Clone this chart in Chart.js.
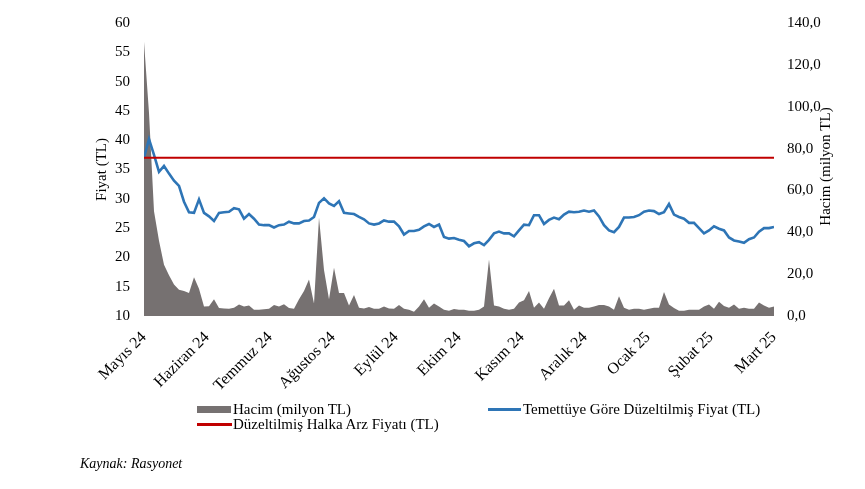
<!DOCTYPE html>
<html>
<head>
<meta charset="utf-8">
<script src="https://cdn.jsdelivr.net/npm/chart.js@4.4.1/dist/chart.umd.min.js"></script>
<style>
  body { margin: 0; background: #fff; }
  #wrap { position: relative; width: 865px; height: 489px; font-family: 'Liberation Serif', 'Times New Roman', serif; color: #000; }
  .sw { position: absolute; }
  .txt { position: absolute; font-size: 15px; line-height: 17px; white-space: nowrap; }
</style>
</head>
<body>
<div id="wrap">
  <canvas id="myChart" width="865" height="489"></canvas>
  <div class="sw" style="left:197px;top:406px;width:34px;height:7px;background:#767171"></div>
  <div class="txt" style="left:233px;top:401px">Hacim (milyon TL)</div>
  <div class="sw" style="left:488px;top:408px;width:33px;height:2.5px;background:#2E75B6"></div>
  <div class="txt" style="left:523px;top:401px">Temettüye Göre Düzeltilmiş Fiyat (TL)</div>
  <div class="sw" style="left:197px;top:423px;width:35px;height:2.5px;background:#C00000"></div>
  <div class="txt" style="left:233px;top:416px">Düzeltilmiş Halka Arz Fiyatı (TL)</div>
  <div class="txt" style="left:80px;top:455px;font-size:14px;font-style:italic">Kaynak: Rasyonet</div>
</div>

<script type="text/javascript">
  // ay etiketleri (x ekseni)
  var aylar = ['Mayıs 24', 'Haziran 24', 'Temmuz 24', 'Ağustos 24', 'Eylül 24', 'Ekim 24',
               'Kasım 24', 'Aralık 24', 'Ocak 25', 'Şubat 25', 'Mart 25'];

  // temettüye göre düzeltilmiş fiyat (TL)
  var fiyat = [
    37.0, 40.2, 37.5, 34.6, 35.6, 34.3, 33.1, 32.2, 29.5, 27.7,
    27.6, 29.9, 27.6, 27.0, 26.2, 27.6, 27.7, 27.8, 28.4, 28.2,
    26.6, 27.4, 26.6, 25.6, 25.5, 25.5, 25.1, 25.5, 25.6, 26.1,
    25.8, 25.8, 26.2, 26.3, 26.9, 29.3, 30.1, 29.2, 28.8, 29.6,
    27.6, 27.5, 27.4, 26.9, 26.5, 25.8, 25.6, 25.8, 26.3, 26.1,
    26.1, 25.3, 23.9, 24.5, 24.5, 24.7, 25.3, 25.7, 25.2, 25.6,
    23.5, 23.2, 23.3, 23.0, 22.8, 21.9, 22.4, 22.6, 22.1, 23.0,
    24.1, 24.4, 24.1, 24.1, 23.6, 24.6, 25.6, 25.5, 27.2, 27.2,
    25.7, 26.4, 26.8, 26.5, 27.3, 27.8, 27.7, 27.8, 28.0, 27.8,
    28.0, 27.0, 25.5, 24.6, 24.3, 25.2, 26.8, 26.8, 26.9, 27.2,
    27.8, 28.0, 27.9, 27.4, 27.7, 29.1, 27.3, 26.9, 26.6, 25.9,
    25.9, 25.0, 24.1, 24.6, 25.3, 24.9, 24.6, 23.4, 22.9, 22.7,
    22.5, 23.1, 23.4, 24.4, 25.0, 25.0, 25.2
  ];

  // işlem hacmi (milyon TL)
  var hacim = [
    131, 97, 50, 36, 24.5, 19.5, 15, 12.5, 12, 11,
    18.5, 13, 4.5, 4.6, 8, 3.8, 3.6, 3.5, 4, 5.5,
    4.5, 5, 3, 3, 3.2, 3.5, 5.2, 4.5, 5.6, 3.8,
    3.5, 8, 12, 17.5, 6, 47, 22, 8, 23, 11,
    11, 5, 10, 4, 3.6, 4.3, 3.5, 3.5, 4.5, 3.6,
    3.5, 5.3, 3.5, 3, 2, 4.5, 8, 4, 6, 4.5,
    3, 2.5, 3.3, 3, 3, 2.5, 2.5, 3, 4.5, 27,
    5, 4.5, 3.5, 3, 3.5, 6.5, 7.5, 12, 4, 6.5,
    3.5, 8.5, 13, 5, 5, 7.5, 3, 5, 4, 4,
    4.5, 5.3, 5.3, 4.5, 3, 9.4, 4, 3, 3.5, 3.5,
    3, 3.5, 4, 4, 11.5, 5.5, 3.8, 2.5, 2.5, 3,
    3, 3, 4.5, 5.5, 3.5, 6.8, 4.8, 4, 5.5, 3.5,
    4, 3.5, 3.5, 6.5, 5, 4, 4.5
  ];

  // düzeltilmiş halka arz fiyatı (TL)
  var halkaArzFiyati = 37.0;

  var sonGun = fiyat.length - 1;
  var fiyatNok = fiyat.map(function(v, i){ return {x: i, y: v}; });
  var hacimNok = hacim.map(function(v, i){ return {x: i, y: v}; });
  var arzNok = fiyat.map(function(v, i){ return {x: i, y: halkaArzFiyati}; });

  var serif = "'Liberation Serif', 'Times New Roman', serif";
  Chart.defaults.font.family = serif;
  Chart.defaults.color = '#000';

  // sağ eksen başlığı aşağıdan yukarı okunuyor
  var sagBaslik = {
    id: 'sagBaslik',
    afterDraw: function(chart) {
      var ctx = chart.ctx, a = chart.chartArea;
      ctx.save();
      ctx.translate(826, (a.top + a.bottom) / 2 - 3);
      ctx.rotate(-Math.PI / 2);
      ctx.font = '15px ' + serif;
      ctx.fillStyle = '#000';
      ctx.textAlign = 'center';
      ctx.textBaseline = 'middle';
      ctx.fillText('Hacim (milyon TL)', 0, 0);
      ctx.restore();
    }
  };

  var ctx = document.getElementById('myChart').getContext('2d');
  var chart = new Chart(ctx, {
    type: 'line',
    data: {
      datasets: [{
        label: 'Düzeltilmiş Halka Arz Fiyatı (TL)',
        data: arzNok,
        yAxisID: 'y',
        borderColor: '#C00000',
        borderWidth: 2,
        pointRadius: 0,
        order: 1
      }, {
        label: 'Temettüye Göre Düzeltilmiş Fiyat (TL)',
        data: fiyatNok,
        yAxisID: 'y',
        borderColor: '#2E75B6',
        borderWidth: 2.6,
        pointRadius: 0,
        tension: 0,
        order: 2
      }, {
        label: 'Hacim (milyon TL)',
        data: hacimNok,
        yAxisID: 'y1',
        borderWidth: 0,
        borderColor: '#767171',
        backgroundColor: '#767171',
        fill: 'origin',
        pointRadius: 0,
        tension: 0,
        order: 3
      }]
    },
    options: {
      responsive: false,
      animation: false,
      layout: { padding: { left: 88, right: 0, top: 14, bottom: 0 } },
      plugins: { legend: { display: false }, tooltip: { enabled: false } },
      scales: {
        x: {
          type: 'linear',
          min: 0,
          max: sonGun,
          grid: { display: false, drawTicks: false },
          border: { display: false },
          afterBuildTicks: function(axis) {
            axis.ticks = aylar.map(function(m, i){ return {value: i * sonGun / (aylar.length - 1)}; });
          },
          afterFit: function(axis) { axis.height = 173; },
          ticks: {
            autoSkip: false,
            maxRotation: 45,
            minRotation: 45,
            padding: 12,
            font: { size: 16 },
            callback: function(v, i) { return aylar[i]; }
          }
        },
        y: {
          position: 'left',
          min: 10,
          max: 60,
          grid: { display: false, drawTicks: false },
          border: { display: false },
          afterFit: function(axis) { axis.width = 56; },
          ticks: { stepSize: 5, padding: 14, font: { size: 15 } },
          title: { display: true, text: 'Fiyat (TL)', font: { size: 15 }, padding: { top: 5, bottom: 0 } }
        },
        y1: {
          position: 'right',
          min: 0,
          max: 140,
          grid: { display: false, drawTicks: false },
          border: { display: false },
          afterFit: function(axis) { axis.width = 91; },
          ticks: {
            stepSize: 20,
            padding: 13,
            font: { size: 15 },
            callback: function(v) { return v.toFixed(1).replace('.', ','); }
          }
        }
      }
    },
    plugins: [sagBaslik]
  });
</script>
</body>
</html>
